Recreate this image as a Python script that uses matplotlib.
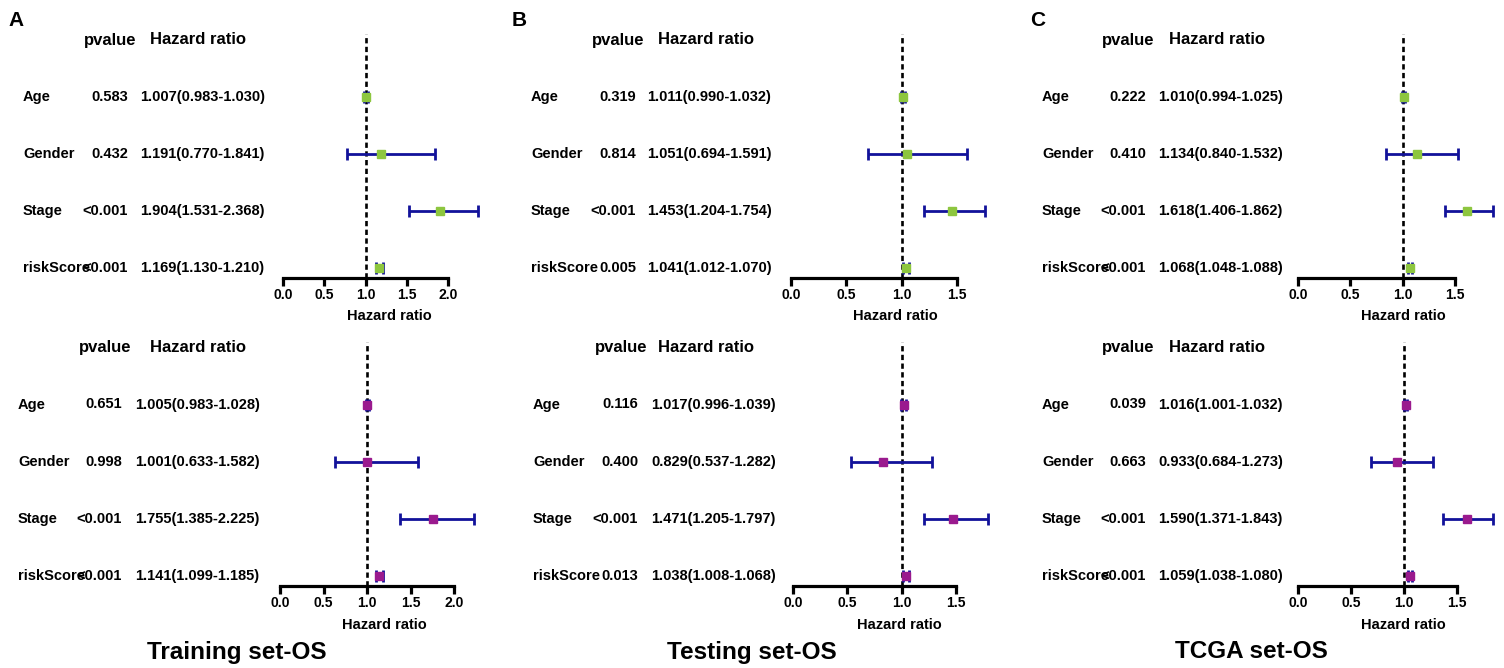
import matplotlib.pyplot as plt
import matplotlib.transforms as mtransforms
import numpy as np

plt.rcParams['font.family'] = ['Liberation Sans', 'DejaVu Sans']
plt.rcParams['font.weight'] = 'bold'

W, H = 1504, 668

variables = ['Age', 'Gender', 'Stage', 'riskScore']

# Training set-OS
train_uni_p = ['0.583', '0.432', '<0.001', '<0.001']
train_uni_hr = [1.007, 1.191, 1.904, 1.169]
train_uni_lo = [0.983, 0.770, 1.531, 1.130]
train_uni_hi = [1.030, 1.841, 2.368, 1.210]

train_multi_p = ['0.651', '0.998', '<0.001', '<0.001']
train_multi_hr = [1.005, 1.001, 1.755, 1.141]
train_multi_lo = [0.983, 0.633, 1.385, 1.099]
train_multi_hi = [1.028, 1.582, 2.225, 1.185]

# Testing set-OS
test_uni_p = ['0.319', '0.814', '<0.001', '0.005']
test_uni_hr = [1.011, 1.051, 1.453, 1.041]
test_uni_lo = [0.990, 0.694, 1.204, 1.012]
test_uni_hi = [1.032, 1.591, 1.754, 1.070]

test_multi_p = ['0.116', '0.400', '<0.001', '0.013']
test_multi_hr = [1.017, 0.829, 1.471, 1.038]
test_multi_lo = [0.996, 0.537, 1.205, 1.008]
test_multi_hi = [1.039, 1.282, 1.797, 1.068]

# TCGA set-OS
tcga_uni_p = ['0.222', '0.410', '<0.001', '<0.001']
tcga_uni_hr = [1.010, 1.134, 1.618, 1.068]
tcga_uni_lo = [0.994, 0.840, 1.406, 1.048]
tcga_uni_hi = [1.025, 1.532, 1.862, 1.088]

tcga_multi_p = ['0.039', '0.663', '<0.001', '<0.001']
tcga_multi_hr = [1.016, 0.933, 1.590, 1.059]
tcga_multi_lo = [1.001, 0.684, 1.371, 1.038]
tcga_multi_hi = [1.032, 1.273, 1.843, 1.080]

ticks_a = [0.0, 0.5, 1.0, 1.5, 2.0]
ticks_bc = [0.0, 0.5, 1.0, 1.5]

green = '#8DC63F'
purple = '#9A1A8E'
ci_color = '#12129A'

fig = plt.figure(figsize=(W / 100, H / 100), dpi=100)


def fx(px):
    return px / W


def fy(py):
    return 1 - py / H


def forest(p, hr, lo, hi, color, ticks, lay):
    x0, ppu, xmax, row0, step = lay['x0'], lay['ppu'], lay['xmax'], lay['row0'], lay['step']
    top_px = row0 - 1.1 * step
    bot_px = row0 + 3.175 * step
    ax = fig.add_axes([fx(x0), fy(bot_px), xmax * ppu / W, (bot_px - top_px) / H])
    ax.set_xlim(0, xmax)
    ax.set_ylim(3.175, -1.1)
    ax.patch.set_alpha(0)

    hr = np.array(hr)
    lo = np.array(lo)
    hi = np.array(hi)
    y = np.arange(len(hr))

    ax.axvline(1, color='black', lw=1.9, ls=(0, (2.0, 1.3)), zorder=1)
    eb = ax.errorbar(hr, y, xerr=[hr - lo, hi - hr], fmt='none', ecolor=ci_color,
                     elinewidth=2, capsize=4.5, capthick=2, zorder=2)
    for a in eb.get_children():
        a.set_clip_on(False)
    ax.plot(hr, y, 's', ms=6.2, color=color, zorder=3, clip_on=False)

    for s in ['left', 'top', 'right']:
        ax.spines[s].set_visible(False)
    ax.spines['bottom'].set_linewidth(2.3)
    ax.spines['bottom'].set_bounds(ticks[0], ticks[-1])
    ax.set_yticks([])
    ax.set_xticks(ticks)
    ax.set_xticklabels(['%.1f' % t for t in ticks])
    ax.tick_params(axis='x', length=5.5, width=2.3, labelsize=10, pad=1.5)
    for t in ax.get_xticklabels():
        t.set_fontweight('bold')
    ax.set_xlabel('Hazard ratio', fontsize=10.5, fontweight='bold')
    ax.xaxis.set_label_coords(fx(lay['xlab_c']), fy(lay['xlab_y'] - 6), transform=fig.transFigure)

    tr = mtransforms.blended_transform_factory(fig.transFigure, ax.transData)
    ax.text(fx(lay['hp']), -1, 'pvalue', transform=tr, ha='left', va='center', fontsize=12)
    ax.text(fx(lay['hh']), -1, 'Hazard ratio', transform=tr, ha='left', va='center', fontsize=12)
    for i, v in enumerate(variables):
        ax.text(fx(lay['lab']), i, v, transform=tr, ha='left', va='center', fontsize=10.5)
        ax.text(fx(lay['pr']), i, p[i], transform=tr, ha='right', va='center', fontsize=10.5)
        ax.text(fx(lay['hl']), i, '%.3f(%.3f-%.3f)' % (hr[i], lo[i], hi[i]), transform=tr,
                ha='left', va='center', fontsize=10.5)
    return ax


forest(train_uni_p, train_uni_hr, train_uni_lo, train_uni_hi, green, ticks_a,
       dict(x0=283, ppu=82.5, xmax=2.45, row0=97, step=57, lab=23, pr=128, hl=140,
            hp=84, hh=150, xlab_c=389, xlab_y=315))
forest(train_multi_p, train_multi_hr, train_multi_lo, train_multi_hi, purple, ticks_a,
       dict(x0=280, ppu=87, xmax=2.35, row0=404.5, step=57.2, lab=18, pr=122, hl=135,
            hp=79, hh=150, xlab_c=384, xlab_y=624))
forest(test_uni_p, test_uni_hr, test_uni_lo, test_uni_hi, green, ticks_bc,
       dict(x0=791, ppu=110.7, xmax=1.85, row0=97, step=57, lab=531, pr=636, hl=647,
            hp=592, hh=658, xlab_c=895, xlab_y=315))
forest(test_multi_p, test_multi_hr, test_multi_lo, test_multi_hi, purple, ticks_bc,
       dict(x0=793, ppu=108.7, xmax=1.85, row0=404.5, step=57.2, lab=533, pr=638, hl=651,
            hp=595, hh=658, xlab_c=899, xlab_y=624))
forest(tcga_uni_p, tcga_uni_hr, tcga_uni_lo, tcga_uni_hi, green, ticks_bc,
       dict(x0=1298, ppu=104.7, xmax=1.95, row0=97, step=57, lab=1042, pr=1146, hl=1158,
            hp=1102, hh=1169, xlab_c=1403, xlab_y=315))
forest(tcga_multi_p, tcga_multi_hr, tcga_multi_lo, tcga_multi_hi, purple, ticks_bc,
       dict(x0=1298, ppu=106, xmax=1.9, row0=404.5, step=57.2, lab=1042, pr=1146, hl=1158,
            hp=1102, hh=1169, xlab_c=1403, xlab_y=624))

for letter, px in [('A', 8), ('B', 512), ('C', 1030)]:
    fig.text(fx(px), fy(21), letter, ha='left', va='center', fontsize=15, fontweight='bold')

for title, px in [('Training set-OS', 237), ('Testing set-OS', 752), ('TCGA set-OS', 1251)]:
    fig.text(fx(px), fy(652), title, ha='center', va='center', fontsize=17.5, fontweight='bold')

fig.savefig('out.png', dpi=100)
